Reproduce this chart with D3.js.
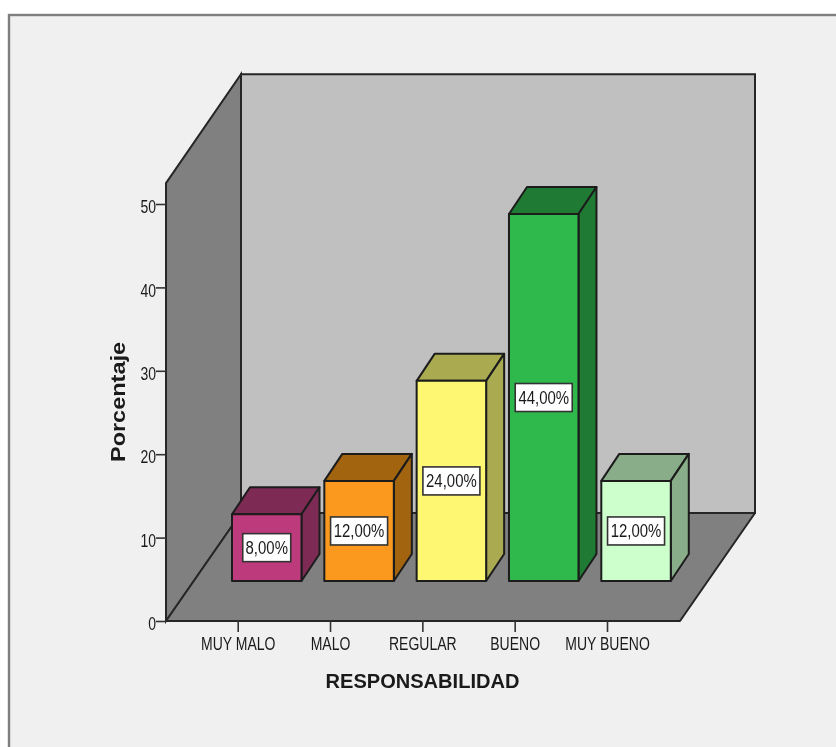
<!DOCTYPE html>
<html>
<head>
<meta charset="utf-8">
<script src="https://cdn.jsdelivr.net/npm/d3@7"></script>
<style>
html,body{margin:0;padding:0;background:#fff;overflow:hidden}
svg{display:block;filter:blur(0.5px)}
text{font-family:"Liberation Sans",Arial,sans-serif;fill:#1a1a1a}
</style>
</head>
<body>
<div id="chart"></div>
<script>
const categories = ["MUY MALO", "MALO", "REGULAR", "BUENO", "MUY BUENO"];
const values = [8, 12, 24, 44, 12];
const valueLabels = ["8,00%", "12,00%", "24,00%", "44,00%", "12,00%"];
const yTicks = [0, 10, 20, 30, 40, 50];
const frontColors = ["#bd3b7d", "#fb991f", "#fdf772", "#2fb84c", "#ccffcc"];
const darkColors = ["#7d2a55", "#a3640f", "#aaaa50", "#1f7a34", "#88ad88"];
const xTitle = "RESPONSABILIDAD";
const yTitle = "Porcentaje";

const W = 836, H = 747;
const svg = d3.select("#chart").append("svg").attr("width", W).attr("height", H);

const y = d3.scaleLinear().domain([0, 50]).range([621, 204]);
const x = d3.scalePoint().domain(categories).range([237.7, 607]);

const lineColor = "#262626";
const floorL = 166, floorR = 680, base = 621;
const depthX = 75, depthY = 108, wallTop = y(52.5);
const barW = 69.5, barOffX = -5.7, barLift = 40, barDX = 18, barDY = 27;
const poly = pts => pts.map(p => p.join(",")).join(" ");

svg.append("rect").attr("x", 9).attr("y", 15).attr("width", W + 20).attr("height", H + 20)
  .attr("fill", "#f0f0f0").attr("stroke", "#7f7f7f").attr("stroke-width", 2.4);

// walls and floor
svg.append("polygon").attr("fill", "#c0c0c0").attr("stroke", lineColor).attr("stroke-width", 2)
  .attr("points", poly([[floorL + depthX, base - depthY], [floorR + depthX, base - depthY], [floorR + depthX, wallTop - depthY - 1], [floorL + depthX, wallTop - depthY - 1]]));
svg.append("polygon").attr("fill", "#808080").attr("stroke", lineColor).attr("stroke-width", 2)
  .attr("points", poly([[floorL, base], [floorL + depthX, base - depthY], [floorL + depthX, wallTop - depthY - 1], [floorL, wallTop]]));
svg.append("polygon").attr("fill", "#808080").attr("stroke", lineColor).attr("stroke-width", 2).attr("stroke-linejoin", "round")
  .attr("points", poly([[floorL, base], [floorR, base], [floorR + depthX, base - depthY], [floorL + depthX, base - depthY]]));

// bars
const bars = svg.append("g").selectAll("g").data(categories).join("g")
  .attr("stroke", "#1c1c1c").attr("stroke-width", 2).attr("stroke-linejoin", "round");
bars.each(function (c, i) {
  const g = d3.select(this);
  const x0 = x(c) + barOffX, x1 = x0 + barW;
  const yb = base - barLift, yt = y(values[i]) - barLift;
  g.append("polygon").attr("fill", darkColors[i])
    .attr("points", poly([[x0, yt], [x0 + barDX, yt - barDY], [x1 + barDX, yt - barDY], [x1, yt]]));
  g.append("polygon").attr("fill", darkColors[i])
    .attr("points", poly([[x1, yt], [x1 + barDX, yt - barDY], [x1 + barDX, yb - barDY], [x1, yb]]));
  g.append("rect").attr("x", x0).attr("y", yt).attr("width", barW).attr("height", yb - yt).attr("fill", frontColors[i]);
});

function squeeze(sel, k) {
  sel.each(function () {
    const len = this.getComputedTextLength();
    d3.select(this).attr("textLength", len * k).attr("lengthAdjust", "spacingAndGlyphs");
  });
}

// value labels
categories.forEach((c, i) => {
  const cx = x(c) + barOffX + barW / 2;
  const cy = (y(values[i]) - barLift + base - barLift) / 2;
  const w = valueLabels[i].length === 5 ? 48 : 57, h = 28;
  svg.append("rect").attr("x", cx - w / 2).attr("y", cy - h / 2).attr("width", w).attr("height", h)
    .attr("fill", "#fff").attr("stroke", "#333").attr("stroke-width", 1.6);
  svg.append("text").attr("x", cx).attr("y", cy + 6.5).attr("text-anchor", "middle")
    .attr("font-size", 18).text(valueLabels[i]).call(squeeze, 0.83);
});

// axes
const yAxis = svg.append("g").attr("transform", `translate(${floorL},0)`)
  .call(d3.axisLeft(y).tickValues(yTicks).tickSize(10).tickPadding(0));
const xAxis = svg.append("g").attr("transform", `translate(0,${base})`)
  .call(d3.axisBottom(x).tickSize(11).tickPadding(5.6));
[yAxis, xAxis].forEach(a => {
  a.select(".domain").remove();
  a.selectAll("line").attr("stroke", "#333").attr("stroke-width", 1.6);
  a.selectAll("text").attr("font-size", 17.5).attr("font-family", '"Liberation Sans"').call(squeeze, 0.8);
});
yAxis.selectAll("text").attr("dy", "0.5em");

// titles
svg.append("text").attr("x", 422.5).attr("y", 688).attr("text-anchor", "middle")
  .attr("font-size", 21).attr("font-weight", "bold").text(xTitle).call(squeeze, 0.955);
svg.append("text").attr("transform", "translate(124.5,402) rotate(-90)").attr("text-anchor", "middle")
  .attr("font-size", 20).attr("font-weight", "bold")
  .attr("textLength", 120).attr("lengthAdjust", "spacingAndGlyphs").text(yTitle);
</script>
</body>
</html>
